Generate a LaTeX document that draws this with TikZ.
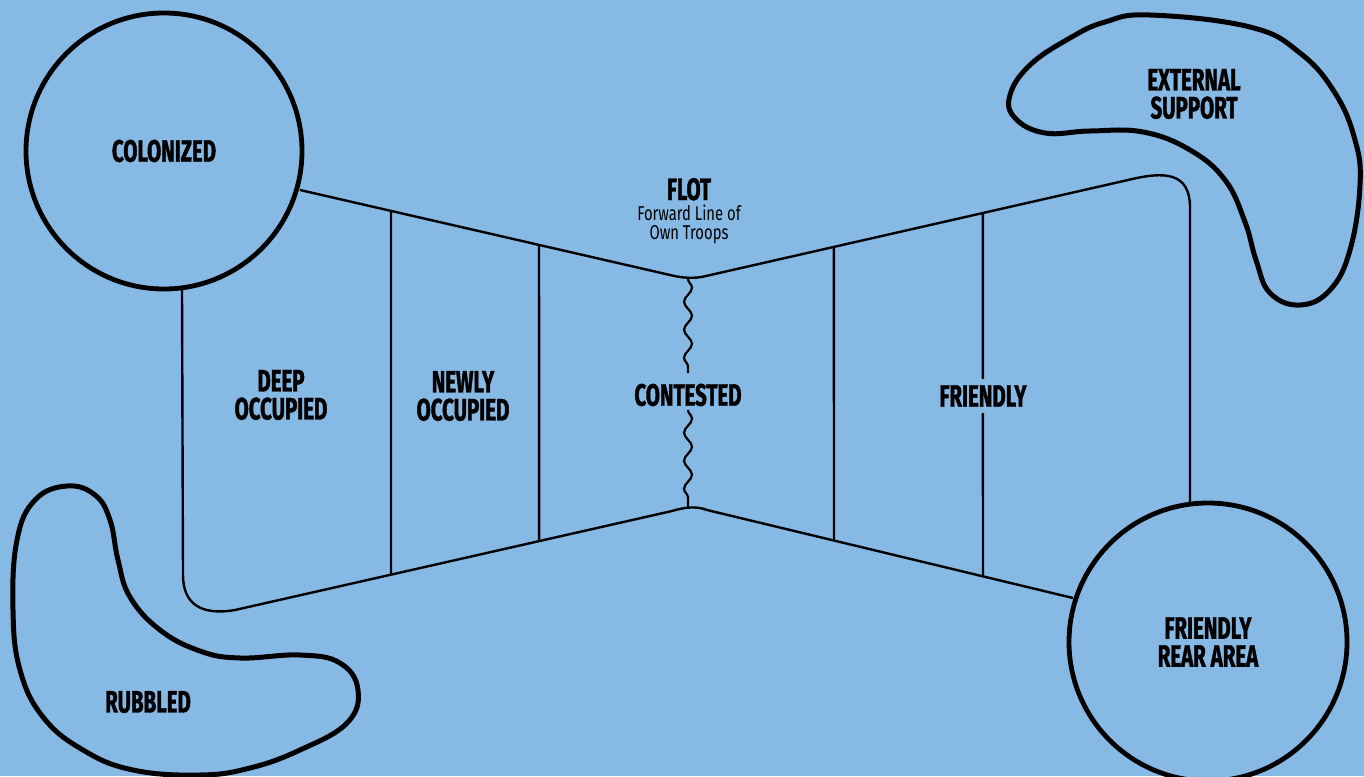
\documentclass[tikz,border=0pt]{standalone}
\usepackage{fontspec}
\usetikzlibrary{decorations.pathmorphing,calc}
\newfontfamily\labfont[FakeStretch=0.66, BoldFeatures={FakeBold=1.3}]{Fira Sans}
\newfontfamily\subfont[FakeStretch=0.74]{Fira Sans}
\definecolor{bg}{HTML}{87B9E5}
\tikzset{
  zone/.style={font=\labfont\bfseries\fontsize{31}{28}\selectfont, align=center, inner sep=0pt},
  bigcircle/.style={circle, draw=black, line width=4.8pt, minimum size=276pt, inner sep=0pt, fill=bg,
    font=\labfont\bfseries\fontsize{31}{28}\selectfont, align=center},
  outline/.style={draw=black, line width=2.4pt, line join=round},
  divider/.style={draw=black, line width=2.4pt},
  blob/.style={draw=black, line width=5pt, line join=round},
  wave/.style={draw=black, line width=2.2pt, decorate, decoration={snake, segment length=28pt, amplitude=4pt}}
}
\begin{document}
\begin{tikzpicture}[x=1pt,y=-1pt]
\fill[bg] (0,0) rectangle (1364,776);
\useasboundingbox (0,0) rectangle (1364,776);

% blobs
\path[blob] plot[smooth cycle, tension=0.7] coordinates {(1150,15) (1250,27) (1300,53) (1335,93) (1355,140) (1360,185) (1350,250) (1330,290) (1300,305) (1270,293) (1256,260) (1245,222) (1225,180) (1190,150) (1143,132) (1090,131) (1045,133) (1015,118) (1010,95) (1030,65) (1070,38) (1105,22)};
\path[blob] plot[smooth cycle, tension=0.7] coordinates {(67,486) (95,495) (110,520) (118,560) (130,597) (160,630) (200,651) (240,658) (300,655) (340,663) (358,690) (347,723) (300,750) (250,768) (200,775) (133,770) (83,750) (43,717) (20,670) (13,610) (17,540) (35,500)};

% main outline coordinates
\coordinate (tl0) at (300,190);
\coordinate (tl1) at (670,275);
\coordinate (tr0) at (706,276);
\coordinate (tr1) at (1128,180);
\coordinate (bl0) at (235,610);
\coordinate (bl1) at (672,511);
\coordinate (br0) at (707,510);
\coordinate (br1) at (1073,598);

\path[outline] (tl0) -- (tl1) .. controls (682,278) and (694,279) .. (tr0) -- (tr1) .. controls (1165,171) and (1190,172) .. (1190,208) -- (1190,503);
\path[outline] (182,290) -- (183,575) .. controls (183,603) and (200,616) .. (bl0) -- (bl1) .. controls (685,507) and (697,506) .. (br0) -- (br1);

% dividers
\path[divider] ($(tl0)!0.246!(tl1)$) -- ($(bl0)!0.357!(bl1)$);
\path[divider] ($(tl0)!0.646!(tl1)$) -- ($(bl0)!0.696!(bl1)$);
\path[divider] ($(tr0)!0.303!(tr1)$) -- ($(br0)!0.347!(br1)$);
\path[divider] ($(tr0)!0.656!(tr1)$) -- ($(br0)!0.754!(br1)$);

% contested waves
\coordinate (w1a) at (688,279);
\coordinate (w1b) at (688,373);
\coordinate (w2a) at (688,410);
\coordinate (w2b) at (688,507);
\path[wave] (w1a) -- (w1b);
\path[wave] (w2a) -- (w2b);

% circles
\node[bigcircle] (col) at (164,151) {COLONIZED};
\node[bigcircle, minimum size=278pt] (rear) at (1208,642) {FRIENDLY\\REAR AREA};

% labels
\node[zone, anchor=base, text depth=0pt] (flot) at (689,200) {FLOT};
\node[align=center, inner sep=0pt, font=\subfont\fontsize{20}{19}\selectfont, anchor=north] (flotsub) at (689,205) {Forward Line of\\Own Troops};
\node[zone] (deep) at (281,395) {DEEP\\OCCUPIED};
\node[zone] (newly) at (463,396) {NEWLY\\OCCUPIED};
\node[zone] (cont) at (688,395) {CONTESTED};
\node[zone, fill=bg, inner xsep=2pt, inner ysep=6pt] (friendly) at (983,396) {FRIENDLY};
\node[zone] (ext) at (1194,94) {EXTERNAL\\SUPPORT};
\node[zone] (rub) at (148,702) {RUBBLED};
\end{tikzpicture}
\end{document}
